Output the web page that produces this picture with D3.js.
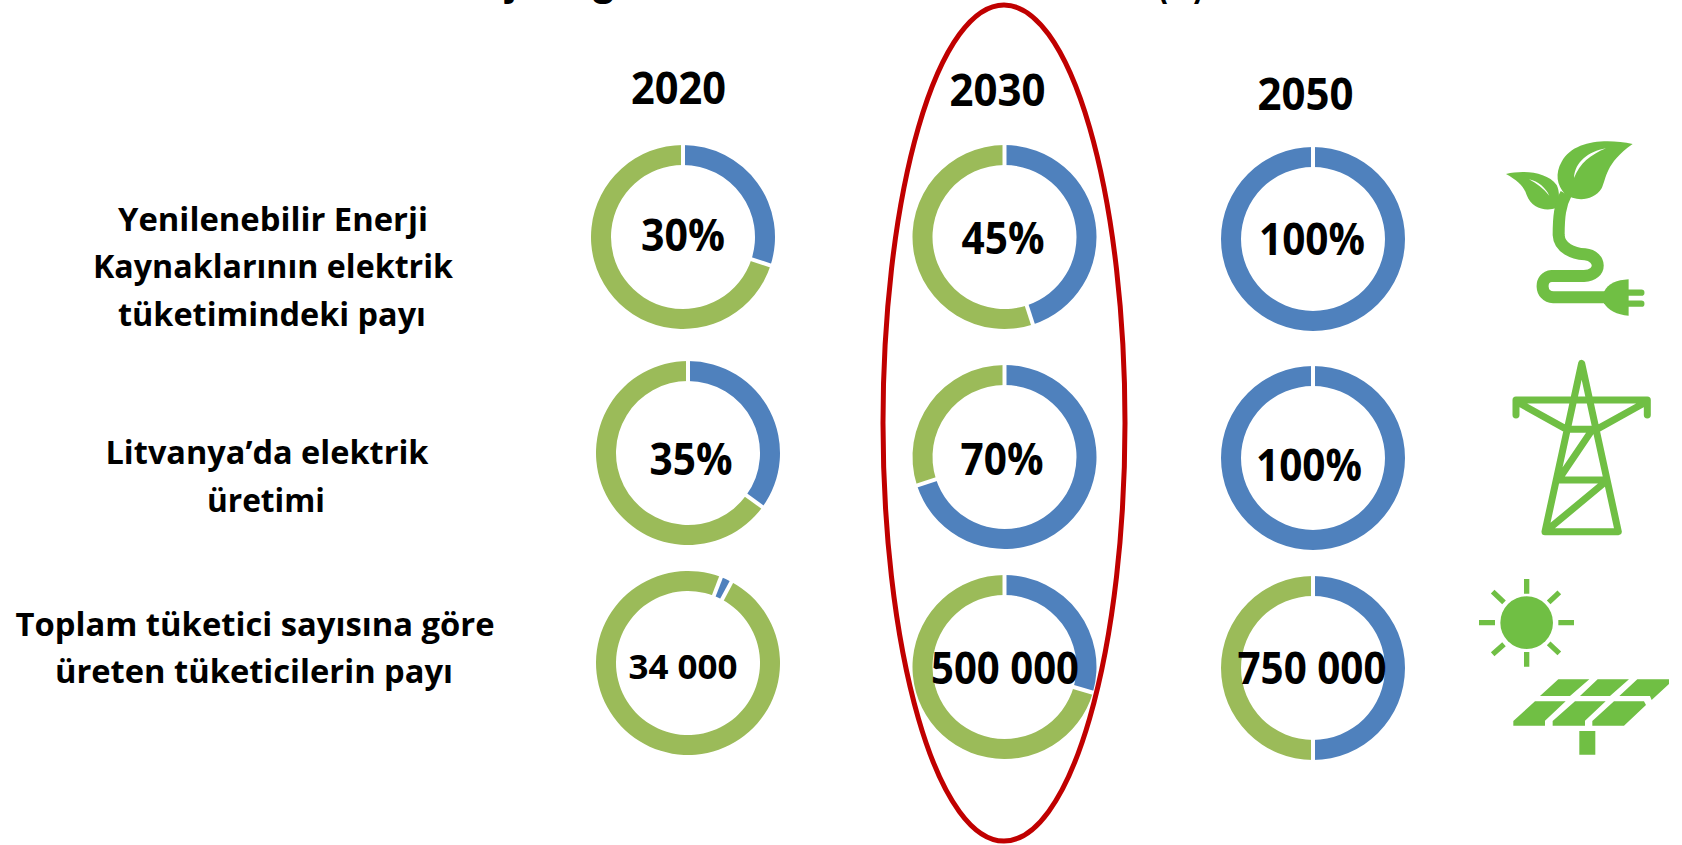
<!DOCTYPE html>
<html lang="tr">
<head>
<meta charset="utf-8">
<title>Enerji hedefleri</title>
<script src="https://cdn.jsdelivr.net/npm/d3@7/dist/d3.min.js"></script>
<style>
  html, body { margin: 0; padding: 0; background: #fff; }
  svg { display: block; }
  text { font-family: "Open Sans", "Noto Sans", sans-serif; font-weight: 700; fill: #000; }
  .heading text { font-family: "Liberation Sans", Arial, sans-serif; }
</style>
</head>
<body>
<svg id="chart" width="1682" height="845" viewBox="0 0 1682 845"></svg>
<script>
// Values
const years = ["2020", "2030", "2050"];
const renewableShare = [30, 45, 100];
const domesticGeneration = [35, 70, 100];
const prosumerShare = [2, 29.5, 50];
const renewableLabels = ["30%", "45%", "100%"];
const generationLabels = ["35%", "70%", "100%"];
const prosumerLabels = ["34 000", "500 000", "750 000"];
const rowTitles = [
  ["Yenilenebilir Enerji", "Kaynaklarının elektrik", "tüketimindeki payı"],
  ["Litvanya’da elektrik", "üretimi"],
  ["Toplam tüketici sayısına göre", "üreten tüketicilerin payı"]
];

// Layout
const colours = { share: "#4F81BD", rest: "#9BBB59", ring: "#C00000", icon: "#70BF44" };
const outerR = 92, innerR = 72;
const centres = [
  [[683, 237], [1004.5, 237], [1313, 239]],
  [[688, 453], [1004.5, 457], [1313, 458]],
  [[688, 663], [1004.5, 667], [1313, 668]]
];
const firstSliceDeg = [[0, 0, 0], [0, 0, 0], [21, 0, 0]];
const valueLabelBox = [
  [[683, 251, 84, 44], [1003, 254, 83, 44], [1312, 255, 106, 44]],
  [[691, 475, 83, 44], [1002, 475, 83, 44], [1309, 481, 106, 44]],
  [[683, 679, 109, 34], [1005, 684, 148, 44], [1312, 684, 149, 44]]
];
const yearBox = [[678.5, 104, 95], [997.5, 106, 96], [1305.5, 110, 96]];
const rowTitleBox = [
  [[273, 231, 310], [273, 278, 360], [272, 326, 308]],
  [[267, 464, 323], [266, 512, 118]],
  [[255, 636, 479], [254, 683, 398]]
];

const svg = d3.select("#chart");

function fitted(parent, str, x, y, size, width, anchor = "middle") {
  return parent.append("text")
    .attr("x", x).attr("y", y)
    .attr("font-size", size)
    .attr("text-anchor", anchor)
    .attr("textLength", width)
    .attr("lengthAdjust", "spacingAndGlyphs")
    .text(str);
}

// Heading, running off the top edge of the page
const heading = svg.append("g").attr("class", "heading");
const headingLine = heading.append("text")
  .attr("x", 263).attr("y", -5).attr("font-size", 44);
headingLine.append("tspan").text("Ulusal Enerji ");
headingLine.append("tspan").attr("dx", -8).text("Bağımsızlık Planı Hedefleri");
fitted(heading, "(%)", 1157, -5, 44, 47, "start");

// Year headers
years.forEach((y, i) => {
  const [x, base, w] = yearBox[i];
  fitted(svg, y, x, base, 44, w);
});

// Row titles
rowTitles.forEach((lines, r) => lines.forEach((line, i) => {
  const [x, base, w] = rowTitleBox[r][i];
  fitted(svg, line, x, base, 32, w);
}));

// Donuts
const rows = [
  { values: renewableShare, labels: renewableLabels },
  { values: domesticGeneration, labels: generationLabels },
  { values: prosumerShare, labels: prosumerLabels }
];
const arc = d3.arc().innerRadius(innerR).outerRadius(outerR);
const colour = d3.scaleOrdinal(["share", "rest"], [colours.share, colours.rest]);

rows.forEach((row, r) => row.values.forEach((value, c) => {
  const [cx, cy] = centres[r][c];
  const start = firstSliceDeg[r][c] * Math.PI / 180;
  const pie = d3.pie().sort(null).value(d => d.v)
    .startAngle(start).endAngle(start + 2 * Math.PI);
  const slices = pie([{ k: "share", v: value }, { k: "rest", v: 100 - value }])
    .filter(d => d.data.v > 0);
  const g = svg.append("g").attr("transform", `translate(${cx},${cy})`);

  g.selectAll("path.slice").data(slices).join("path")
    .attr("class", "slice")
    .attr("d", arc)
    .attr("fill", d => colour(d.data.k));

  // White seam at the start of each slice
  g.selectAll("line.seam").data(slices).join("line")
    .attr("class", "seam")
    .attr("x1", d => (innerR - 2) * Math.sin(d.startAngle))
    .attr("y1", d => -(innerR - 2) * Math.cos(d.startAngle))
    .attr("x2", d => (outerR + 2) * Math.sin(d.startAngle))
    .attr("y2", d => -(outerR + 2) * Math.cos(d.startAngle))
    .attr("stroke", "#fff")
    .attr("stroke-width", 4);
}));

// Highlight around the 2030 column
svg.append("ellipse")
  .attr("cx", 1004).attr("cy", 423).attr("rx", 121).attr("ry", 418)
  .attr("fill", "none").attr("stroke", colours.ring).attr("stroke-width", 5);

// Value labels sit over the rings and the highlight
rows.forEach((row, r) => row.labels.forEach((label, c) => {
  const [x, base, w, size] = valueLabelBox[r][c];
  fitted(svg, label, x, base, size, w);
}));

// Pictograms
const plant = svg.append("g").attr("transform", "translate(1460,120) scale(0.3333)");
plant.append("path").attr("fill", colours.icon)
  .attr("d", "M518,72 C440,55 340,60 305,125 C285,160 290,195 315,222 C345,245 400,245 425,205 C440,175 435,130 518,72Z");
plant.append("path").attr("fill", colours.icon)
  .attr("d", "M138,162 C190,150 260,155 290,195 C300,215 298,240 290,264 C255,275 215,265 200,225 C190,195 170,180 138,162Z");
plant.append("path").attr("fill", "#fff")
  .attr("d", "M438,85 C385,95 345,125 342,174 C360,130 390,105 438,85Z");
plant.append("path").attr("fill", "#fff")
  .attr("d", "M207,178 C235,183 258,205 268,227 C250,205 230,190 207,178Z");
plant.append("path").attr("fill", "none").attr("stroke", colours.icon)
  .attr("stroke-width", 36).attr("stroke-linecap", "butt")
  .attr("d", "M318,222 C300,255 296,290 296,345 C298,385 340,400 375,403 C425,408 428,466 372,468 L275,468 C238,470 238,530 280,532 L445,532");
plant.append("path").attr("fill", colours.icon)
  .attr("d", "M432,515 C445,490 470,480 506,478 L506,587 C470,585 445,570 432,550Z");
plant.append("path").attr("fill", "none").attr("stroke", colours.icon)
  .attr("stroke-width", 19).attr("stroke-linecap", "round")
  .attr("d", "M505,518 L544,518 M505,551 L544,551");

const tower = svg.append("g").attr("transform", "translate(1460,340) scale(0.3333)");
tower.append("path").attr("fill", "none").attr("stroke", colours.icon)
  .attr("stroke-width", 21).attr("stroke-linecap", "round").attr("stroke-linejoin", "round")
  .attr("d", "M255,575 L365,70 L475,575 Z M168,225 L168,180 L562,180 L562,225 M172,186 L320,268 L410,268 L558,186 M395,272 L305,405 M300,420 L432,420 M437,425 L262,570");

const solar = svg.append("g").attr("transform", "translate(1460,560) scale(0.3333)");
solar.append("circle").attr("cx", 200).attr("cy", 188).attr("r", 79).attr("fill", colours.icon);
solar.append("path").attr("fill", "none").attr("stroke", colours.icon).attr("stroke-width", 16)
  .attr("d", "M200,57 V101 M200,276 V320 M57,188 H105 M295,188 H342 M98,95 L132,127 M298,97 L266,127 M98,283 L132,253 M298,280 L266,250");
solar.append("path").attr("fill", colours.icon)
  .attr("d", "M295,358 H388 L330,408 H240Z M413,358 H507 L450,408 H360Z M532,358 H627 V372 L575,420 L570,408 H478Z " +
             "M225,424 H317 L255,482 V497 H160 V483Z M345,424 H437 L375,482 V497 H278 V483Z M462,424 H552 L558,435 L492,497 H397 V483Z " +
             "M358,513 H406 V584 H358Z");
</script>
</body>
</html>
